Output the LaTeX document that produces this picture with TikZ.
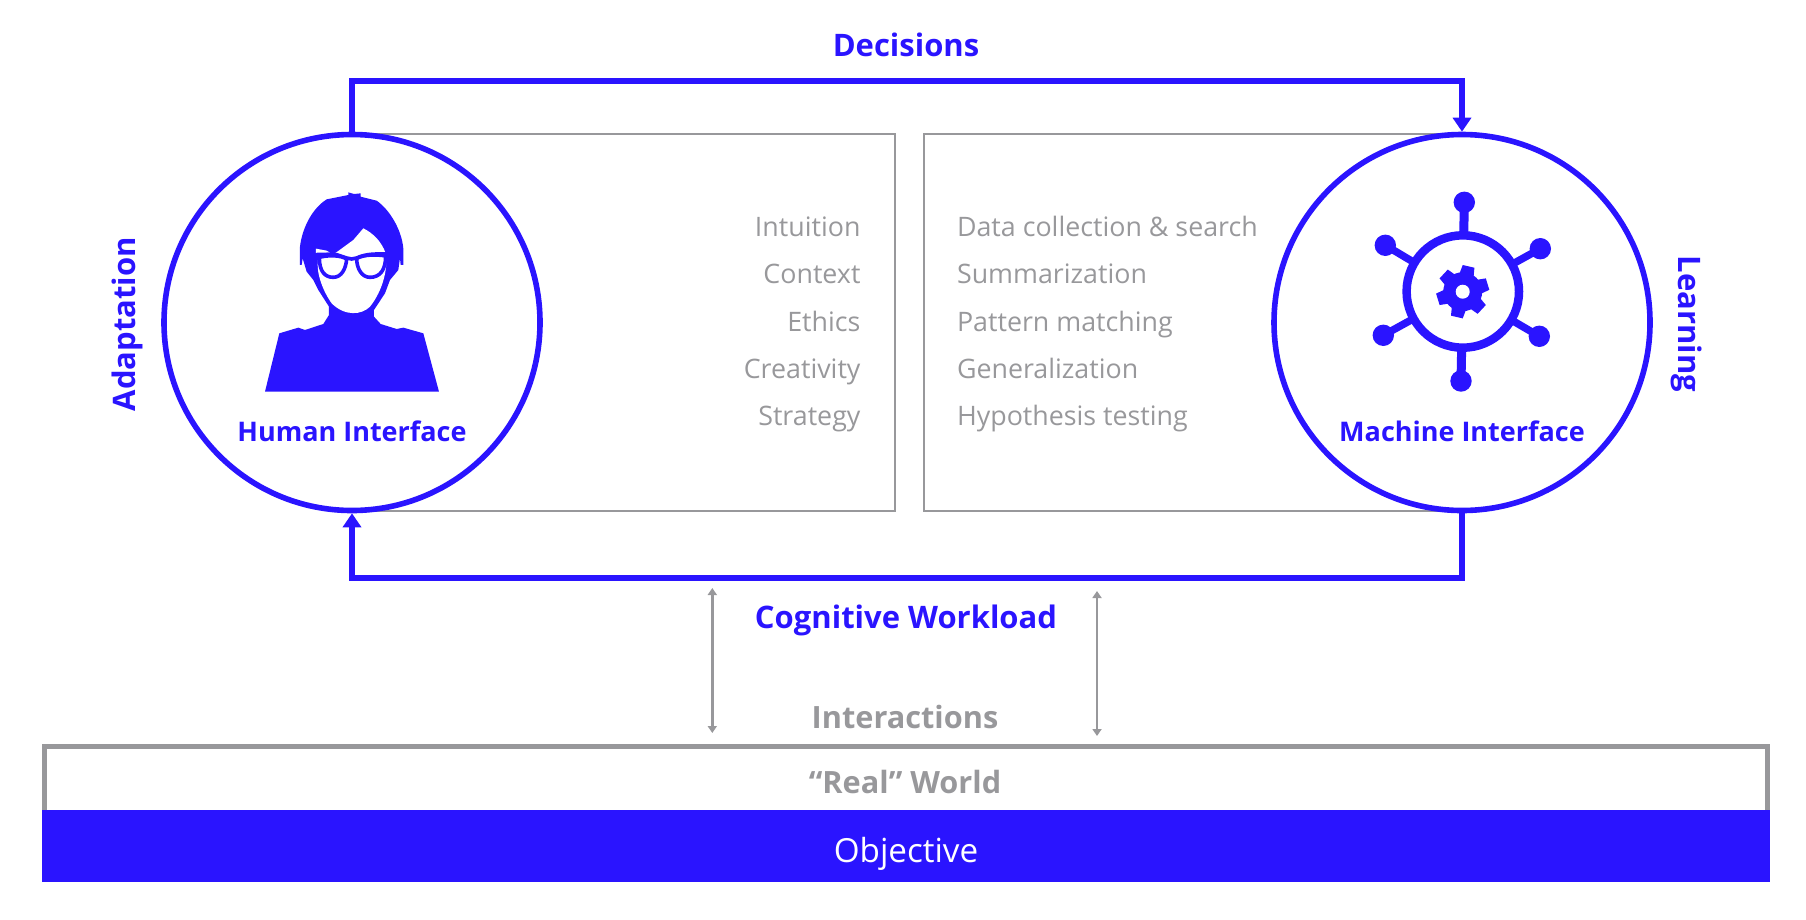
\documentclass[tikz,border=0pt]{standalone}
\usepackage{fontspec}
\setmainfont{Open Sans}
\usetikzlibrary{arrows.meta,positioning}
\definecolor{bl}{HTML}{2A14FF}
\definecolor{gr}{HTML}{98989B}
\tikzset{
  x=1pt,y=-1pt,
  flow/.style={draw=bl,line width=5.6pt,line join=miter},
  flowtip/.style={-{Triangle[width=18pt,length=14pt,fill=bl]}},
  ifc/.style={circle,draw=bl,line width=5.6pt,fill=white,minimum size=376pt,inner sep=0pt},
  panel/.style={draw=gr,line width=2pt},
  txtsz/.style={font=\fontsize{26.8}{30}\selectfont},
  itemleft/.style={txtsz,text=gr,anchor=base west},
  itemright/.style={txtsz,text=gr,anchor=base east},
  bluelab/.style={font=\fontsize{31}{34}\selectfont\bfseries,text=bl,anchor=base},
  ifclab/.style={font=\fontsize{27}{32}\selectfont\bfseries,text=bl,anchor=base},
  grlab/.style={font=\fontsize{30.7}{36}\selectfont\bfseries,text=gr,anchor=base},
  ioarrow/.style={draw=gr,line width=2.4pt,{Triangle[width=9pt,length=7pt]}-{Triangle[width=9pt,length=7pt]}},
  spoke/.style={draw=bl,line width=8pt},
}
\begin{document}
\begin{tikzpicture}
\useasboundingbox (0,0) rectangle (1806,919);
% panels
\node[panel,draw,anchor=north west,minimum width=542.5pt,minimum height=377.5pt,inner sep=0pt] (lpanel) at (351,132.5) {};
\node[panel,draw,anchor=north west,minimum width=538pt,minimum height=377.5pt,inner sep=0pt] (rpanel) at (922.5,132.5) {};
% circles
\node[ifc] (human) at (352,322.5) {};
\node[ifc] (machine) at (1462,322.5) {};
% connectors
\coordinate (topy) at (0,81);
\coordinate (boty) at (0,578);
\draw[flow,flowtip] (human.north) -- (human.north |- topy) -- (machine.north |- topy) -- (machine.north);
\draw[flow,flowtip] (machine.south) -- (machine.south |- boty) -- (human.south |- boty) -- (human.south);
% person icon
\begin{scope}[shift={(230,160)},x=0.3333pt,y=-0.3333pt]
\fill[bl,line join=round] (210,315) -- (210,260) .. controls (215,215) and (240,150) .. (290,118) -- (355,105) -- (355,97) -- (372,102) -- (392,100) -- (392,110) -- (440,122) .. controls (480,150) and (515,210) .. (520,265) -- (520,315) -- (512,315) -- (510,295) -- (505,330) -- (480,360) -- (465,400) -- (432,450) -- (432,470) -- (452,492) -- (500,507) -- (520,503) -- (580,520) -- (627,695) -- (105,695) -- (148,520) -- (205,503) -- (225,510) -- (280,492) -- (297,465) -- (297,440) -- (265,390) -- (250,360) -- (230,335) -- (218,295) -- (215,315) -- cycle;
\fill[white] (318,278) -- (370,240) -- (400,205) .. controls (430,220) and (455,245) .. (467,280) .. controls (475,320) and (460,390) .. (420,440) .. controls (395,465) and (345,470) .. (305,430) .. controls (280,395) and (258,340) .. (264,300) -- cycle;
\fill[white] (258,266) -- (290,272) -- (300,278) -- (258,279) -- cycle;
\draw[bl,line width=3.6pt,fill=white,line join=round] (268,292) .. controls (295,285) and (330,285) .. (350,297) .. controls (348,325) and (335,352) .. (310,352) .. controls (285,352) and (268,335) .. (268,292) -- cycle;
\draw[bl,line width=3.6pt,fill=white,line join=round] (380,295) .. controls (405,283) and (440,283) .. (467,288) .. controls (467,330) and (450,352) .. (420,352) .. controls (395,352) and (380,325) .. (380,295) -- cycle;
\draw[bl,line width=3.6pt] (260,283) -- (320,284) -- (350,294) .. controls (360,298) and (370,298) .. (380,294) .. controls (410,280) and (440,282) .. (470,282);
\end{scope}
% network icon
\coordinate (hub) at (1462.8,291.5);
\foreach \bx/\by/\lw in {1464.3/202.3/9,1540.3/248.7/7.5,1539.3/336.3/7.5,1461/381/9,1383.3/335.3/7.5,1385.3/245.3/7.5}{
  \draw[spoke,line width=\lw pt] (hub) -- (\bx,\by);
  \fill[bl] (\bx,\by) circle[radius=10.7pt];
}
\draw[bl,line width=8.5pt,fill=white] (hub) circle[radius=56.2pt];
\begin{scope}[shift={(1462.7,291.7)},x=1pt,y=1pt]
\fill[bl] (0,0) circle[radius=19.5pt];
\foreach \a in {-163,-103,-43,17,77,137}{
  \fill[bl,rotate=\a] (15,-7.5) -- (26,-6) -- (26,6) -- (15,7.5) -- cycle;
}
\fill[white] (0,0) circle[radius=7pt];
\end{scope}
% io arrows
\coordinate (a1t) at (712.3,588); \coordinate (a1b) at (712.3,733);
\coordinate (a2t) at (1097,591); \coordinate (a2b) at (1097,736);
\draw[ioarrow] (a1t) -- (a1b);
\draw[ioarrow] (a2t) -- (a2b);
% bottom
\node[draw=gr,line width=5pt,anchor=north west,minimum width=1723pt,minimum height=70pt,inner sep=0pt] (world) at (42,744) {};
\node[fill=bl,anchor=north west,minimum width=1728pt,minimum height=72pt,inner sep=0pt,outer sep=0pt] (objective) at (42,810) {};
% labels
\node[bluelab] (ldec) at (906,56) {Decisions};
\node[bluelab] (lcog) at (906,628) {Cognitive Workload};
\node[bluelab,rotate=90] (lada) at (135,324) {Adaptation};
\node[bluelab,rotate=-90] (llea) at (1678,324) {Learning};
\node[ifclab] (lhum) at (352,441) {Human Interface};
\node[ifclab] (lmac) at (1462,441) {Machine Interface};
\node[grlab] (lint) at (905,728) {Interactions};
\node[grlab] (lrea) at (905,793) {“Real” World};
\node[font=\fontsize{33.2}{36}\selectfont,text=white,anchor=base] (lobj) at (906,862) {Objective};
\node[itemright] (i1) at (864,236) {Intuition};
\node[itemright] (i2) at (864,283.5) {Context};
\node[itemright] (i3) at (864,331) {Ethics};
\node[itemright] (i4) at (864,378) {Creativity};
\node[itemright] (i5) at (864,425) {Strategy};
\node[itemleft] (m1) at (953.5,236) {Data collection \& search};
\node[itemleft] (m2) at (953.5,283.5) {Summarization};
\node[itemleft] (m3) at (953.5,331) {Pattern matching};
\node[itemleft] (m4) at (953.5,378) {Generalization};
\node[itemleft] (m5) at (953.5,425) {Hypothesis testing};
\end{tikzpicture}
\end{document}
